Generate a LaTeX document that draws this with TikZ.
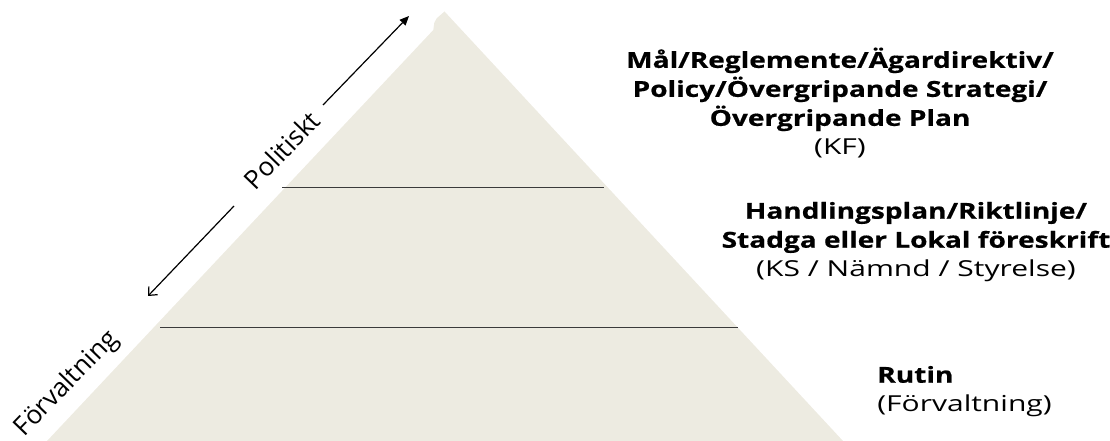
\documentclass[tikz,border=0pt]{standalone}
\usepackage{fontspec}
\setmainfont{Open Sans}
\newfontfamily\rfam{Open Sans}[FakeStretch=1.365]
\newfontfamily\bfam{Open Sans}[FakeStretch=1.275,FakeBold=0.6]
\usetikzlibrary{arrows.meta}
\definecolor{pyr}{HTML}{EDEBE1}
\definecolor{sep}{HTML}{3A3A3A}
\newcommand{\bl}[1]{{\bfam\bfseries #1}}
\newcommand{\rl}[1]{{\rfam #1}}
\tikzset{
  sepline/.style={draw=sep, line width=1pt},
  arr/.style={draw=black, line width=0.9pt},
  sidelabel/.style={font=\fontsize{19.5}{22}\selectfont, inner sep=0pt, rotate=46},
  blocktext/.style={font=\fontsize{16.5}{21.75}\selectfont, inner sep=0pt, align=center},
}
\begin{document}
\begin{tikzpicture}[x=0.75pt,y=-0.75pt]
\useasboundingbox (0,0) rectangle (1110,441);
% pyramid (visible shape, small notch near the apex)
\fill[pyr] (444.5,11.5) -- (843,441) -- (47,441)
  -- (433.3,30) -- (434.3,22.7) -- (436.7,18.3) -- cycle;
% separating lines
\coordinate (l1a) at (282,187.3);
\coordinate (l1b) at (604,187.3);
\coordinate (l2a) at (160,327.3);
\coordinate (l2b) at (738,327.3);
\draw[sepline] (l1a) -- (l1b);
\draw[sepline] (l2a) -- (l2b);
% arrows
\coordinate (a1s) at (323,105);
\coordinate (a1e) at (409,16);
\coordinate (a2s) at (234,206);
\coordinate (a2e) at (148,296);
\draw[arr, -{Triangle[length=7pt,width=6pt]}] (a1s) -- (a1e);
\draw[arr, -{Straight Barb[length=5pt,width=9pt]}] (a2s) -- (a2e);
% side labels
\node[sidelabel] (pol) at (282,150) {Politiskt};
\node[sidelabel] (forv) at (67,384) {Förvaltning};
% right texts
\node[blocktext] (t1) at (840,103) {\bl{Mål/Reglemente/Ägardirektiv/}\\\bl{Policy/Övergripande Strategi/}\\\bl{Övergripande Plan}\\\rl{(KF)}};
\node[blocktext] (t2) at (916,242) {\bl{Handlingsplan/Riktlinje/}\\\bl{Stadga eller Lokal föreskrift}\\\rl{(KS / Nämnd / Styrelse)}};
\node[blocktext, align=left, anchor=west] (t3) at (877,391.5) {\bl{Rutin}\\\rl{(Förvaltning)}};
\end{tikzpicture}
\end{document}
